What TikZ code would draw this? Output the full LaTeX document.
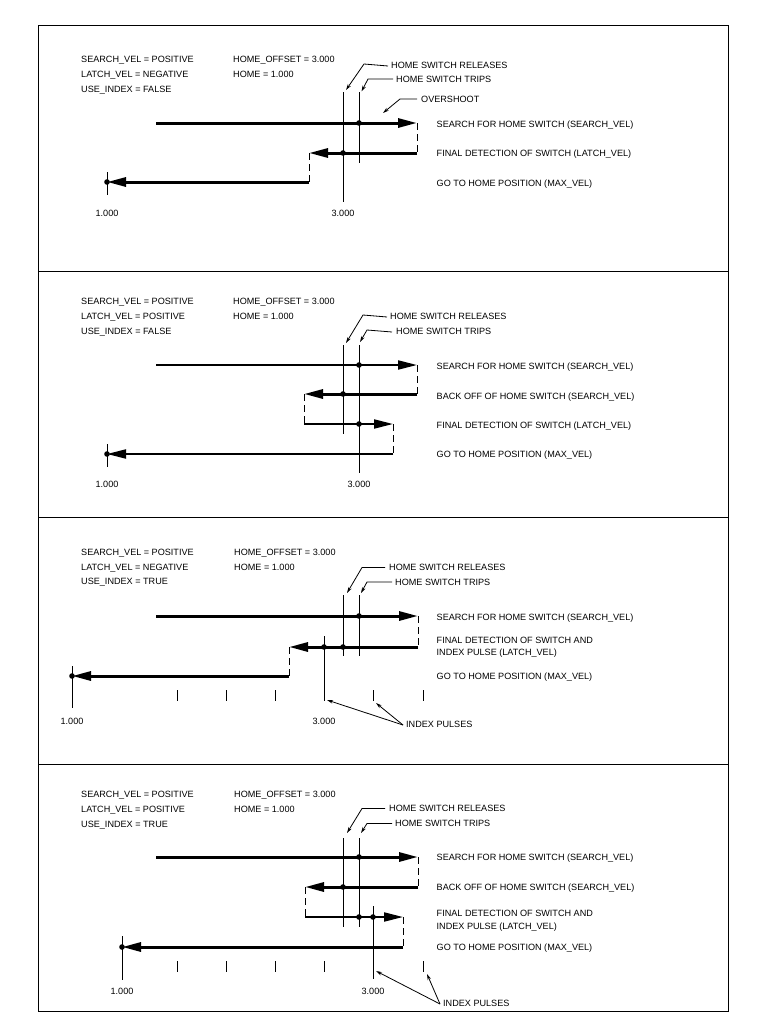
\documentclass[tikz,border=0pt]{standalone}
\usepackage{fontspec}
\setmainfont{Liberation Sans}
\usetikzlibrary{arrows.meta}
\begin{document}
\begin{tikzpicture}[x=1pt,y=-1pt,
  txt/.style={anchor=west,inner sep=0pt,text height=6.5pt,text depth=0pt,font=\fontsize{9.1}{10}\selectfont},
  num/.style={txt,anchor=center},
  frame/.style={line width=1pt},
  bigarrow/.style={line width=3pt,-{Triangle[length=19pt,width=9pt]}},
  smallarrow/.style={line width=2pt,-{Triangle[length=19pt,width=9pt]}},
  link/.style={line width=1pt,dash pattern=on 7pt off 4pt},
  marker/.style={line width=1pt},
  leader/.style={line width=0.8pt,-{Stealth[length=6pt,width=3.5pt]}},
  spot/.style={circle,fill,inner sep=0pt,minimum size=5.6pt},
]
\useasboundingbox (0,0) rectangle (769,1036);
% frame
\draw[frame] (38,25) rectangle (728,1011);
\draw[frame] (38,271) -- (728,271);
\draw[frame] (38,517) -- (728,517);
\draw[frame] (38,764) -- (728,764);

% ================= PANEL 1 =================
\node[txt] (a1) at (81,59) {SEARCH\_VEL = POSITIVE};
\node[txt] (a2) at (81,74) {LATCH\_VEL = NEGATIVE};
\node[txt] (a3) at (81,89.5) {USE\_INDEX = FALSE};
\node[txt] (a4) at (233,59) {HOME\_OFFSET = 3.000};
\node[txt] (a5) at (233,74) {HOME = 1.000};
\node[txt] (arel) at (391,65) {HOME SWITCH RELEASES};
\node[txt] (atrip) at (396,79) {HOME SWITCH TRIPS};
\node[txt] (aover) at (421,99) {OVERSHOOT};
\node[txt] (as) at (436.5,124) {SEARCH FOR HOME SWITCH (SEARCH\_VEL)};
\node[txt] (af) at (436.5,153) {FINAL DETECTION OF SWITCH (LATCH\_VEL)};
\node[txt] (ag) at (436.5,183) {GO TO HOME POSITION (MAX\_VEL)};
\node[num] (an1) at (107,213) {1.000};
\node[num] (an3) at (343,213) {3.000};

\coordinate (aS0) at (156,123); \coordinate (aS1) at (417,123);
\coordinate (aF0) at (417,153); \coordinate (aF1) at (309,153);
\coordinate (aG0) at (309,182); \coordinate (aG1) at (107,182);
\draw[marker] (343,92) coordinate (arT) -- (343,202) coordinate (arB);
\draw[marker] (359,92) coordinate (atT) -- (359,163) coordinate (atB);
\draw[marker] (107,172) coordinate (ahT) -- (107,195) coordinate (ahB);
\draw[bigarrow] (aS0) -- (aS1);
\draw[link] (aS1) -- (aF0);
\draw[bigarrow] (aF0) -- (aF1);
\draw[link] (aF1) -- (aG0);
\draw[bigarrow] (aG0) -- (aG1);
\node[spot] (ad1) at (359,123) {};
\node[spot] (ad2) at (343,153) {};
\node[spot] (ad3) at (107,182) {};
\draw[leader] ([xshift=-3pt,yshift=-1pt]arel.west) -- (364,64) -- (346,90);
\draw[leader] ([xshift=-3pt]atrip.west) -- (368,79) -- (361.5,91.5);
\draw[leader] ([xshift=-4pt]aover.west) -- (400,99) -- (383,113);

% ================= PANEL 2 =================
\node[txt] (b1) at (81,301.5) {SEARCH\_VEL = POSITIVE};
\node[txt] (b2) at (81,316) {LATCH\_VEL = POSITIVE};
\node[txt] (b3) at (81,331) {USE\_INDEX = FALSE};
\node[txt] (b4) at (233,301.5) {HOME\_OFFSET = 3.000};
\node[txt] (b5) at (233,316) {HOME = 1.000};
\node[txt] (brel) at (390,316) {HOME SWITCH RELEASES};
\node[txt] (btrip) at (396,331) {HOME SWITCH TRIPS};
\node[txt] (bs) at (436.5,366) {SEARCH FOR HOME SWITCH (SEARCH\_VEL)};
\node[txt] (bb) at (436.5,396) {BACK OFF OF HOME SWITCH (SEARCH\_VEL)};
\node[txt] (bf) at (436.5,425) {FINAL DETECTION OF SWITCH (LATCH\_VEL)};
\node[txt] (bg) at (436.5,454) {GO TO HOME POSITION (MAX\_VEL)};
\node[num] (bn1) at (107,484) {1.000};
\node[num] (bn3) at (359,484) {3.000};

\coordinate (bS0) at (156,365); \coordinate (bS1) at (417,365);
\coordinate (bB0) at (417,394); \coordinate (bB1) at (304,394);
\coordinate (bF0) at (304,424); \coordinate (bF1) at (393,424);
\coordinate (bG0) at (393,454); \coordinate (bG1) at (107,454);
\draw[marker] (343,345) -- (343,434);
\draw[marker] (359,345) -- (359,473);
\draw[marker] (107,444) -- (107,467);
\draw[smallarrow] (bS0) -- (bS1);
\draw[link] (bS1) -- (bB0);
\draw[bigarrow] (bB0) -- (bB1);
\draw[link] (bB1) -- (bF0);
\draw[smallarrow] (bF0) -- (bF1);
\draw[link] (bF1) -- (bG0);
\draw[smallarrow] (bG0) -- (bG1);
\node[spot] (bd1) at (359,365) {};
\node[spot] (bd2) at (343,394) {};
\node[spot] (bd3) at (359,424) {};
\node[spot] (bd4) at (107,454) {};
\draw[leader] ([xshift=-3pt,yshift=-1pt]brel.west) -- (363,315) -- (346,343);
\draw[leader] ([xshift=-4pt,yshift=-1pt]btrip.west) -- (367,330) -- (360,342);

% ================= PANEL 3 =================
\node[txt] (c1) at (81,552) {SEARCH\_VEL = POSITIVE};
\node[txt] (c2) at (81,567) {LATCH\_VEL = NEGATIVE};
\node[txt] (c3) at (81,581.5) {USE\_INDEX = TRUE};
\node[txt] (c4) at (234,552) {HOME\_OFFSET = 3.000};
\node[txt] (c5) at (234,567) {HOME = 1.000};
\node[txt] (crel) at (389,567.5) {HOME SWITCH RELEASES};
\node[txt] (ctrip) at (395,582) {HOME SWITCH TRIPS};
\node[txt] (cs) at (436.5,617) {SEARCH FOR HOME SWITCH (SEARCH\_VEL)};
\node[txt] (cf1) at (436.5,640) {FINAL DETECTION OF SWITCH AND};
\node[txt] (cf2) at (436.5,652) {INDEX PULSE (LATCH\_VEL)};
\node[txt] (cg) at (436.5,676) {GO TO HOME POSITION (MAX\_VEL)};
\node[num] (cn1) at (72,721) {1.000};
\node[num] (cn3) at (324,721) {3.000};
\node[txt] (cidx) at (406,724) {INDEX PULSES};

\coordinate (cS0) at (156,616); \coordinate (cS1) at (418,616);
\coordinate (cF0) at (418,647); \coordinate (cF1) at (289,647);
\coordinate (cG0) at (289,676); \coordinate (cG1) at (72,676);
\draw[marker] (343,595) -- (343,656);
\draw[marker] (359,595) -- (359,656);
\draw[marker] (324,636) -- (324,701);
\draw[marker] (72,666) -- (72,708);
\foreach \xx in {177,226,275,373,423} \draw[marker] (\xx,690) -- (\xx,701);
\draw[bigarrow] (cS0) -- (cS1);
\draw[link] (cS1) -- (cF0);
\draw[bigarrow] (cF0) -- (cF1);
\draw[link] (cF1) -- (cG0);
\draw[bigarrow] (cG0) -- (cG1);
\node[spot] (cd1) at (359,616) {};
\node[spot] (cd2) at (343,647) {};
\node[spot] (cd3) at (324,647) {};
\node[spot] (cd4) at (72,676) {};
\draw[leader] ([xshift=-4pt]crel.west) -- (362,567.5) -- (347,593);
\draw[leader] ([xshift=-3pt]ctrip.west) -- (367,582) -- (361,593);
\draw[leader] ([xshift=-3pt,yshift=-1pt]cidx.west) -- (327,700);
\draw[leader] ([xshift=-3pt,yshift=-1pt]cidx.west) -- (376,703);

% ================= PANEL 4 =================
\node[txt] (d1) at (81,794) {SEARCH\_VEL = POSITIVE};
\node[txt] (d2) at (81,809) {LATCH\_VEL = POSITIVE};
\node[txt] (d3) at (81,824) {USE\_INDEX = TRUE};
\node[txt] (d4) at (234,794) {HOME\_OFFSET = 3.000};
\node[txt] (d5) at (234,809) {HOME = 1.000};
\node[txt] (drel) at (389,808.5) {HOME SWITCH RELEASES};
\node[txt] (dtrip) at (395,823.5) {HOME SWITCH TRIPS};
\node[txt] (ds) at (436.5,857.5) {SEARCH FOR HOME SWITCH (SEARCH\_VEL)};
\node[txt] (db) at (436.5,887.5) {BACK OFF OF HOME SWITCH (SEARCH\_VEL)};
\node[txt] (df1) at (436.5,913) {FINAL DETECTION OF SWITCH AND};
\node[txt] (df2) at (436.5,926) {INDEX PULSE (LATCH\_VEL)};
\node[txt] (dg) at (436.5,947.5) {GO TO HOME POSITION (MAX\_VEL)};
\node[num] (dn1) at (122,991) {1.000};
\node[num] (dn3) at (373,991) {3.000};
\node[txt] (didx) at (443,1003) {INDEX PULSES};

\coordinate (dS0) at (156,857); \coordinate (dS1) at (418,857);
\coordinate (dB0) at (418,887); \coordinate (dB1) at (305,887);
\coordinate (dF0) at (305,917); \coordinate (dF1) at (403,917);
\coordinate (dG0) at (403,947); \coordinate (dG1) at (122,947);
\draw[marker] (343,838) -- (343,927);
\draw[marker] (359,838) -- (359,927);
\draw[marker] (373,906) -- (373,979);
\draw[marker] (122,936) -- (122,980);
\foreach \xx in {177,226,275,324,423} \draw[marker] (\xx,961) -- (\xx,972);
\draw[bigarrow] (dS0) -- (dS1);
\draw[link] (dS1) -- (dB0);
\draw[bigarrow] (dB0) -- (dB1);
\draw[link] (dB1) -- (dF0);
\draw[smallarrow] (dF0) -- (dF1);
\draw[link] (dF1) -- (dG0);
\draw[bigarrow] (dG0) -- (dG1);
\node[spot] (dd1) at (359,857) {};
\node[spot] (dd2) at (343,887) {};
\node[spot] (dd3) at (359,917) {};
\node[spot] (dd4) at (373,917) {};
\node[spot] (dd5) at (122,947) {};
\draw[leader] ([xshift=-4pt]drel.west) -- (362,808.5) -- (347,833);
\draw[leader] ([xshift=-3pt]dtrip.west) -- (367,823.5) -- (361,833);
\draw[leader] ([xshift=-3pt,yshift=-1pt]didx.west) -- (376,971);
\draw[leader] ([xshift=-3pt,yshift=-1pt]didx.west) -- (427,974);
\end{tikzpicture}
\end{document}
